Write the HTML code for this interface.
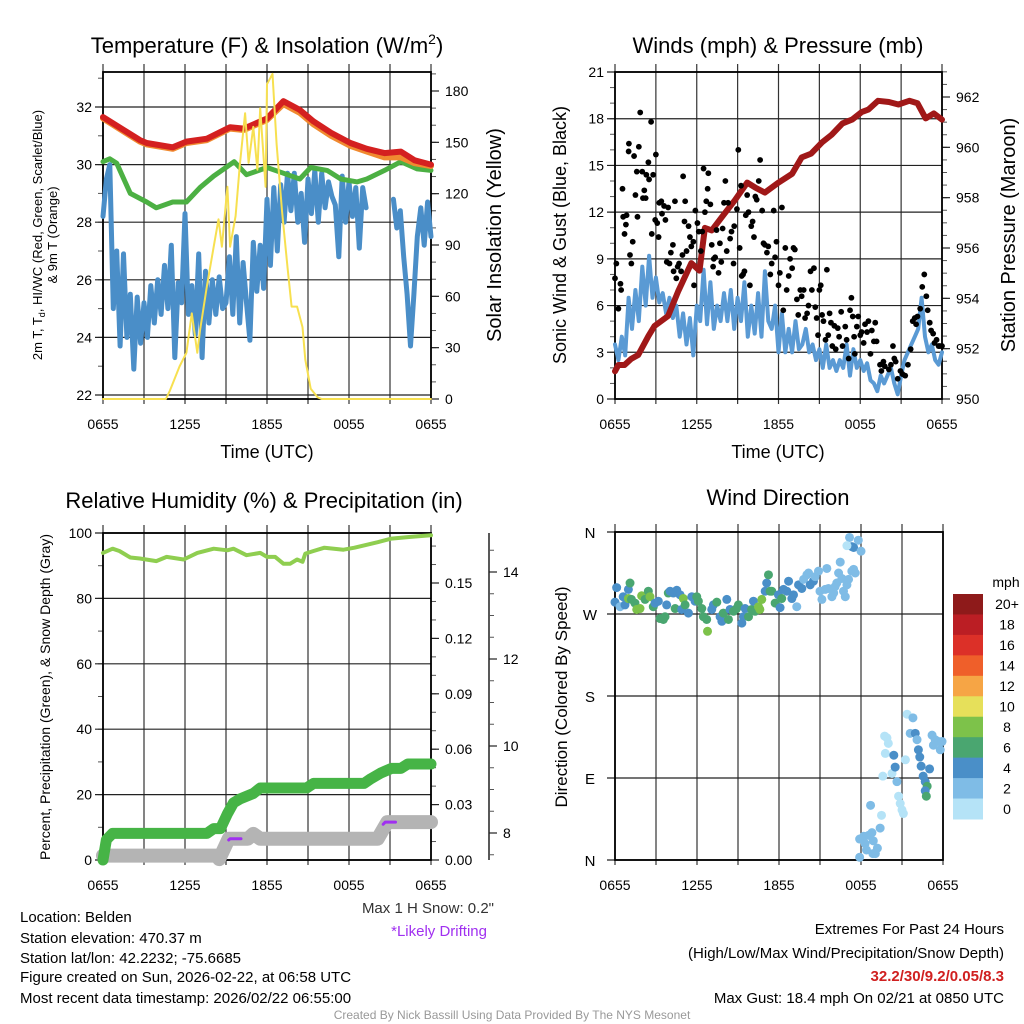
<!DOCTYPE html>
<html><head><meta charset="utf-8"><style>
body{margin:0;background:#fff;}
svg{display:block;font-family:"Liberation Sans",Arial,sans-serif;}
</style></head><body>
<svg id="c" width="1024" height="1024" viewBox="0 0 1024 1024" xmlns="http://www.w3.org/2000/svg">
<rect width="1024" height="1024" fill="#fff"/>
<g font-size="22" text-anchor="middle" fill="#000">
<text x="267" y="53">Temperature (F) &amp; Insolation (W/m<tspan dy="-9" font-size="14">2</tspan><tspan dy="9">)</tspan></text>
<text x="778" y="53">Winds (mph) &amp; Pressure (mb)</text>
<text x="264" y="508">Relative Humidity (%) &amp; Precipitation (in)</text>
<text x="778" y="505">Wind Direction</text>
</g>
<g font-size="18" text-anchor="middle">
<text x="267" y="458">Time (UTC)</text>
<text x="778" y="458">Time (UTC)</text>
</g>
<g font-size="13" text-anchor="middle">
<text transform="translate(42,235) rotate(-90)">2m T, T<tspan font-size="9" dy="3">d</tspan><tspan dy="-3">, HI/WC (Red, Green, Scarlet/Blue)</tspan></text>
<text transform="translate(57,235) rotate(-90)">&amp; 9m T (Orange)</text>
</g>
<text transform="translate(501,235) rotate(-90)" font-size="20" text-anchor="middle">Solar Insolation (Yellow)</text>
<text transform="translate(566,235) rotate(-90)" font-size="18" text-anchor="middle">Sonic Wind &amp; Gust (Blue, Black)</text>
<text transform="translate(1015,235) rotate(-90)" font-size="20" text-anchor="middle">Station Pressure (Maroon)</text>
<text transform="translate(50,697) rotate(-90)" font-size="14" text-anchor="middle">Percent, Precipitation (Green), &amp; Snow Depth (Gray)</text>
<text transform="translate(567,697) rotate(-90)" font-size="17" text-anchor="middle">Direction (Colored By Speed)</text>
<g id="panels"></g>
<g font-size="15" fill="#000">
<text x="20" y="922">Location: Belden</text>
<text x="20" y="943">Station elevation: 470.37 m</text>
<text x="20" y="963">Station lat/lon: 42.2232; -75.6685</text>
<text x="20" y="982">Figure created on Sun, 2026-02-22, at 06:58 UTC</text>
<text x="20" y="1003">Most recent data timestamp: 2026/02/22 06:55:00</text>
<text x="494" y="913" text-anchor="end" fill="#333">Max 1 H Snow: 0.2"</text>
<text x="487" y="936" text-anchor="end" fill="#a030f0">*Likely Drifting</text>
<text x="1004" y="934" text-anchor="end">Extremes For Past 24 Hours</text>
<text x="1004" y="958" text-anchor="end">(High/Low/Max Wind/Precipitation/Snow Depth)</text>
<text x="1004" y="981" text-anchor="end" fill="#d02020" font-weight="bold">32.2/30/9.2/0.05/8.3</text>
<text x="1004" y="1003" text-anchor="end">Max Gust: 18.4 mph On 02/21 at 0850 UTC</text>
</g>
<text x="512" y="1019" font-size="12" fill="#999" text-anchor="middle">Created By Nick Bassill Using Data Provided By The NYS Mesonet</text>
</svg>
<script>
// ---- Data ----
const xTickLabels=["0655","1255","1855","0055","0655"];
const tempHours=[0,2.7,3.2,5.1,6.1,7.6,9.3,10.3,12,13.2,14.4,15.4,16.7,18.1,19.3,20.6,21.8,22.8,24];
const tempRed=[31.65,30.85,30.75,30.6,30.8,30.9,31.3,31.25,31.6,32.2,31.9,31.5,31.1,30.75,30.55,30.4,30.45,30.15,30.0];
const temp9mOrange=[31.6,30.8,30.7,30.55,30.75,30.85,31.25,31.2,31.55,32.1,31.8,31.4,31.0,30.65,30.45,30.25,30.25,30.05,29.95];
const dewHours=[0,0.5,1,2,3.2,3.9,5.1,6.1,7.1,8.1,9.6,10.5,12,13.2,14.4,15.2,16.4,17.4,18.6,19.3,20.6,21.8,23,24];
const dewGreen=[30.1,30.2,30.05,29.0,28.7,28.5,28.7,28.7,29.2,29.6,30.1,29.65,29.9,29.7,29.5,29.9,29.8,29.5,29.4,29.5,29.8,30.1,29.85,29.8];
const windChill=[28.2,29.5,30,25.0,27.0,23.7,26.9,24.0,25.5,22.9,25.4,23.8,25.2,24.0,25.8,24.5,26.0,24.8,26.5,25.0,27.2,23.3,25.9,25.2,28.3,24.8,25.8,24.1,26.9,23.3,26.3,24.5,26.0,24.8,26.1,25.0,25.2,26.8,24.8,27.5,24.5,26.6,25.2,23.9,27.3,25.6,27.2,25.7,28.8,26.5,29.2,27.0,29.3,28.0,29.7,28.4,29.7,28.0,29.0,27.3,29.5,28.3,29.8,28.0,29.7,28.5,29.4,28.9,28.6,26.8,29.6,28.0,29.4,28.2,29.2,27.1,29.2,28.5,null,null,null,null,null,null,null,28.8,27.8,28.4,26.8,25.5,23.7,25.5,27.5,28.5,27.2,28.7,27.5];
const solarHours=[0,4.6,4.9,5.6,6.1,6.5,6.9,7.1,7.6,8.1,8.45,8.7,9.1,9.3,9.7,10.0,10.4,10.65,11.0,11.3,11.5,11.9,12.0,12.4,12.7,13.1,13.5,13.8,14.2,14.6,14.8,15.2,15.7,16,24];
const solarValues=[0,0,5,19,27,50,27,40,66,89,105,89,124,89,107,136,167,138,159,134,170,124,184,190,149,110,77,54,54,42,23,6,1,0,0];
const pressHours=[0,0.25,0.7,1.2,1.7,2.45,2.9,3.9,4.65,5.6,6.2,6.6,7.1,7.8,8.8,9.7,10.3,11.0,12,13,13.7,14.4,15.2,15.9,16.7,17.4,18.1,18.6,19.3,20.1,20.8,21.6,22.2,22.8,23.4,24];
const pressValues=[951.1,951.35,951.35,951.6,951.75,952.5,952.9,953.3,954.3,955.4,955.1,956.8,956.7,957.2,957.9,958.6,958.4,958.2,958.6,958.95,959.6,959.75,960.2,960.5,960.95,961.1,961.4,961.5,961.85,961.8,961.7,961.85,961.75,961.15,961.35,961.1];
const windSpeed=[3.5,2.5,4.0,2.8,6.5,4.5,7.0,5.0,8.5,6.0,9.2,6.5,7.8,6.2,6.8,5.5,6.5,5.2,6.0,4.0,5.5,3.5,5.2,2.8,6.0,5.0,8.3,4.8,7.5,4.5,6.0,5.0,6.8,5.0,7.0,4.5,6.5,5.0,7.5,4.0,6.0,4.2,6.8,4.0,8.2,5.0,4.5,6.0,3.0,5.5,3.0,4.5,3.0,5.0,3.2,3.5,4.5,3.0,3.5,2.5,3.2,2.0,3.5,2.0,2.5,1.8,2.5,2.0,3.5,1.5,3.2,2.0,2.5,1.8,2.3,1.2,1.0,0.5,1.5,1.0,1.5,2.0,1.0,0.3,1.5,2.5,3.0,3.5,4.0,4.5,6.5,4.0,3.0,3.5,2.5,2.2,3.0];
const gustHours=[0,0.1,0.25,0.4,0.45,0.55,0.6,0.7,0.8,0.85,1,1.02,1.1,1.2,1.3,1.4,1.5,1.6,1.65,1.75,1.85,2.0,2.05,2.15,2.25,2.3,2.45,2.5,2.65,2.7,2.8,2.95,3.0,3.1,3.2,3.25,3.4,3.45,3.6,3.7,3.8,3.9,4.0,4.1,4.25,4.3,4.4,4.5,4.6,4.7,4.85,4.95,5.0,5.1,5.15,5.25,5.4,5.5,5.6,5.75,5.8,5.9,6.05,6.15,6.3,6.4,6.5,6.6,6.7,6.8,6.85,7.0,7.1,7.2,7.25,7.35,7.45,7.6,7.7,7.8,7.9,8.0,8.1,8.2,8.3,8.45,8.55,8.7,8.75,8.95,9.05,9.15,9.25,9.3,9.4,9.5,9.6,9.7,9.8,9.9,10.0,10.1,10.2,10.3,10.4,10.55,10.65,10.8,10.9,11.0,11.15,11.25,11.4,11.5,11.65,11.75,11.85,12.0,12.1,12.25,12.35,12.5,12.6,12.75,12.85,13.0,13.1,13.2,13.35,13.45,13.6,13.7,13.85,13.95,14.1,14.2,14.35,14.45,14.6,14.7,14.8,14.9,15.0,15.1,15.2,15.3,15.45,15.55,15.65,15.75,15.85,15.95,16.1,16.2,16.35,16.45,16.6,16.7,16.9,17.0,17.15,17.25,17.35,17.45,17.55,17.6,17.75,17.85,18.0,18.1,18.25,18.35,18.5,18.6,18.75,18.85,19.0,19.1,19.2,19.45,19.55,19.7,19.8,20.1,20.25,20.4,20.5,20.6,20.75,20.95,21.1,21.3,21.5,21.7,21.85,22.0,22.1,22.2,22.4,22.55,22.7,22.85,22.95,23.1,23.2,23.35,23.45,23.6,23.75,23.85,24];
const gustValues=[7.75,8.7,5.8,7.4,7.0,13.5,11.7,10.6,11.2,11.8,15.9,16.4,9.25,8.7,10.1,15.6,13.1,14.6,11.7,16.2,18.4,14.6,12.9,13.4,12.9,14.4,15.2,14.1,17.8,10.6,14.4,11.5,15.7,11.3,10.4,12.6,12.7,11.9,12.4,11.5,8.8,12.3,8.7,9.4,9.9,8.2,12.7,7.75,8.5,8.7,8.2,9.25,14.3,11.4,12.7,9.5,11.1,10.4,9.8,10.1,7.3,12.1,11.3,10.75,9.5,10.75,14.8,12.0,12.7,13.5,14.5,12.5,9.9,8.5,9.0,9.1,10.85,8.1,10.0,8.8,10.95,12.6,14.0,9.5,12.6,10.3,10.75,8.7,11.1,12.2,16.0,9.7,13.7,7.9,8.0,8.2,11.8,13.1,12.0,7.3,11.1,11.4,10.4,13.0,12.8,14.0,15.35,12.1,10.0,9.9,9.4,9.8,8.0,8.7,12.1,9.1,10.1,7.3,8.1,12.3,5.7,9.7,7.0,7.9,9.0,8.4,9.7,9.6,6.4,5.4,7.0,6.6,7.0,5.2,5.5,6.0,8.2,7.0,8.4,5.9,5.2,4.1,7.0,7.3,5.4,5.0,3.8,8.3,4.1,5.5,4.9,3.4,4.7,3.2,4.55,4.0,5.6,3.4,4.65,3.8,2.6,5.7,6.5,5.3,4.0,2.9,4.65,5.3,4.1,4.3,3.6,4.8,4.3,5.0,2.9,4.4,3.7,4.9,3.7,2.2,1.8,2.4,2.1,1.9,2.2,3.4,2.6,2.4,1.3,1.8,1.6,1.5,2.2,3.2,5.0,5.2,4.8,5.3,5.8,7.2,8.0,6.6,5.7,4.9,4.4,4.2,3.6,3.8,3.4,3.4,3.4];
const rhHours=[0,0.7,1.2,2,2.7,3.9,4.65,5.9,6.9,8.1,9.1,9.55,10.5,11.5,12,12.6,13.2,13.7,14.2,14.6,14.8,15.4,16.2,16.9,17.6,18.4,19.1,20.1,21.1,22.5,24];
const rhValues=[93.9,95.2,94.5,92.5,92.2,91.4,92.7,91.9,93.9,95.2,94.7,95.2,93.2,93.9,92.7,92.7,90.6,90.6,91.9,91.2,93.7,94.5,95.5,95.2,94.9,95.5,96.2,97.2,98.3,98.8,99.3];
const precipHours=[0,0.25,0.7,1.2,7.6,8.1,8.6,9.1,9.55,10.0,11.0,11.5,14.9,15.4,19.1,19.6,20.3,21.1,21.8,22.3,24];
const precipValues=[0,0.011,0.0144,0.0144,0.0144,0.017,0.017,0.025,0.031,0.033,0.036,0.039,0.039,0.0415,0.0415,0.044,0.047,0.0496,0.0496,0.052,0.052];
const snowHours=[0,8.3,8.5,9.2,10.6,11.0,11.5,20.1,20.8,24];
const snowValues=[7.48,7.48,7.4,7.87,7.87,7.98,7.87,7.87,8.25,8.25];
const driftHours=[[9.2,9.3,10.1],[20.5,20.65,21.4]];
const driftValues=[[7.84,7.87,7.87],[8.2,8.25,8.25]];
const dirHours=[0,0.12,0.37,0.6,0.73,0.98,1.1,0.98,1.2,1.46,1.59,1.83,1.95,2.2,2.44,2.56,2.8,2.93,3.17,3.3,3.54,3.66,3.78,3.9,4.03,4.27,4.52,4.4,4.76,5.0,4.88,5.13,5.37,5.62,5.86,5.98,6.1,6.35,6.47,6.71,6.77,7.08,7.2,7.45,7.69,7.82,7.93,8.18,8.3,8.42,8.67,8.9,9.03,9.28,9.4,9.52,9.77,10.0,10.13,10.25,10.5,10.6,10.74,10.99,11.1,11.23,11.35,11.47,11.72,11.96,12.08,12.2,12.33,12.57,12.7,12.94,13.06,13.3,13.43,13.67,13.8,14.04,14.16,14.28,14.52,14.65,14.89,15.0,15.14,15.38,15.5,15.62,15.87,16.0,16.1,16.23,16.36,16.48,16.6,16.72,16.85,16.97,17.09,17.33,17.46,17.58,17.16,17.33,17.46,17.8,18.0,16.97,17.9,17.9,18.2,18.3,18.4,18.55,18.7,18.8,18.9,19.05,19.2,18.87,19.4,19.5,19.6,19.73,19.9,20.0,19.78,20.27,20.4,20.5,20.63,20.75,20.87,21.0,21.1,21.25,21.37,21.6,21.8,21.97,22.1,22.2,22.3,22.4,22.55,22.7,22.84,22.7,22.78,23.02,23.2,23.3,23.43,23.68,23.8,23.93];
const dirValues=[283,299,278,289,280,297,304,287,286,282,275,276,290,286,295,289,278,282,284,265,264,267,280,293,295,293,296,276,291,287,275,280,271,289,284,289,284,276,267,264,251,275,280,283,267,262,271,286,264,275,273,276,280,260,267,276,267,275,284,273,278,275,286,295,304,313,295,295,282,291,277,287,297,295,306,287,291,278,302,298,308,313,315,302,306,311,317,295,286,297,320,298,289,293,300,304,315,327,309,295,289,302,308,317,319,315,354,344,343,351,339,345,3,23,26,18,11,27,60,30,21,7,13,7,35,49,92,136,134,128,117,95,115,102,86,70,62,55,51,110,160,139,156,139,132,121,113,103,92,86,81,76,70,100,137,126,132,130,121,130];
const dirSpeeds=[4,4,2,4,4,4,6,8,6,6,8,8,8,6,6,8,6,4,4,6,6,6,4,6,4,4,4,6,4,8,4,6,4,4,4,6,6,6,6,6,8,4,4,6,4,4,6,4,6,4,6,6,6,4,4,4,6,6,4,6,8,8,8,4,4,6,6,6,6,4,4,6,4,4,4,4,4,2,4,4,2,2,2,4,4,2,2,2,2,2,2,2,2,2,2,2,2,2,2,2,2,2,2,2,2,2,2,4,4,2,2,0,2,2,2,2,2,2,2,2,2,2,2,2,2,0,0,0,0,0,0,0,4,4,2,0,0,0,0,0,0,2,2,4,2,4,4,4,4,4,6,4,6,4,2,2,2,2,2,2];
const dirLabels=["N","W","S","E","N"];
const legendLabels=["20+","18","16","14","12","10","8","6","4","2","0"];
const legendColors=["#8e1a1a","#bb1e24","#dc3028","#ef5f2a","#f6a545","#e6e05a","#7dc24a","#4aa670","#4a8fc8","#7fbce6","#b5e3f7"];

// ---- Drawing ----
const NS="http://www.w3.org/2000/svg";
const root=document.getElementById('panels');
function mk(tag,attrs,parent){const e=document.createElementNS(NS,tag);for(const k in attrs)e.setAttribute(k,attrs[k]);(parent||root).appendChild(e);return e;}
function xs(p,h){return p.x0+h/24*(p.x1-p.x0);}
function lin(v0,p0,v1,p1){return v=>p0+(v-v0)*(p1-p0)/(v1-v0);}
function pathD(p,hours,vals,ys){let d='',pen=false;for(let i=0;i<hours.length;i++){const v=vals[i];if(v===null||v===undefined){pen=false;continue;}d+=(pen?'L':'M')+xs(p,hours[i]).toFixed(1)+','+ys(v).toFixed(1);pen=true;}return d;}
function frame(p,name){
  const g=mk('g',{});
  
  
  for(let i=0;i<=8;i++){const x=p.x0+i*(p.x1-p.x0)/8;
    const gl=mk('line',{x1:x,y1:p.y0-8,x2:x,y2:p.y1,stroke:'#333','stroke-width':1.2},g);
    
    
    mk('line',{x1:x,y1:p.y1,x2:x,y2:p.y1+5,stroke:'#333','stroke-width':1.2},g);}
  for(let i=0;i<xTickLabels.length;i++){
    const t=mk('text',{x:p.x0+i*(p.x1-p.x0)/4,y:p.y1+30,'font-size':14,'text-anchor':'middle'},g);t.textContent=xTickLabels[i];
    
    }
  return g;}
function leftAxis(p,g,ys,ticks,minor,fmt,grid){
  minor.forEach(v=>mk('line',{x1:p.x0-5,y1:ys(v),x2:p.x0,y2:ys(v),stroke:'#555','stroke-width':1},g));
  ticks.forEach(v=>{const y=ys(v);
    mk('line',{x1:p.x0-8,y1:y,x2:grid?p.x1:p.x0,y2:y,stroke:'#222','stroke-width':1.2},g);
    const t=mk('text',{x:p.x0-11,y:y+5,'font-size':14,'text-anchor':'end'},g);t.textContent=fmt(v);
    
    });}
function rightAxis(p,g,ys,ticks,minor,fmt){
  minor.forEach(v=>mk('line',{x1:p.x1,y1:ys(v),x2:p.x1+5,y2:ys(v),stroke:'#555','stroke-width':1},g));
  ticks.forEach(v=>{const y=ys(v);
    mk('line',{x1:p.x1,y1:y,x2:p.x1+8,y2:y,stroke:'#222','stroke-width':1.2},g);
    const t=mk('text',{x:p.x1+14,y:y+5,'font-size':14,'text-anchor':'start'},g);t.textContent=fmt(v);
    
    });}
function border(p,g){mk('rect',{x:p.x0,y:p.y0,width:p.x1-p.x0,height:p.y1-p.y0,fill:'none',stroke:'#000','stroke-width':1.8},g);}
function range(a,b,s){const r=[];for(let v=a;v<=b+1e-9;v+=s)r.push(+v.toFixed(4));return r;}
function series(p,hours,vals,ys,color,w,name){
  const e=mk('path',{d:pathD(p,hours,vals,ys),fill:'none',stroke:color,'stroke-width':w,'stroke-linejoin':'round','stroke-linecap':'round'});
  
  
  return e;}
const quarterHours=windChill.map((_,i)=>i*0.25);

// Panel 1: temperature
const p1={x0:103,x1:431,y0:72,y1:399};
const yT=lin(22,395,32,107), ySol=lin(0,399,180,91);
let g=frame(p1,'temperature-panel');
leftAxis(p1,g,yT,range(22,32,2),range(22,33,1),v=>String(v),true);
rightAxis(p1,g,ySol,range(0,180,30),range(0,190,10),v=>String(v));
series(p1,quarterHours,windChill,yT,'#4a8ec8',5,'wind-chill-line');
series(p1,dewHours,dewGreen,yT,'#4cb043',5,'dewpoint-line');
series(p1,tempHours,temp9mOrange,yT,'#f08a30',6,'temp-9m-line');
series(p1,tempHours,tempRed,yT,'#d42020',6,'temp-2m-line');
series(p1,solarHours,solarValues,ySol,'#f7e050',2,'solar-line');
border(p1,g);

// Panel 2: winds
const p2={x0:615,x1:942,y0:72,y1:399};
const yW=lin(0,399,21,72), yP=lin(950,399,962,97);
g=frame(p2,'winds-panel');
leftAxis(p2,g,yW,range(0,21,3),range(0,21,1),v=>String(v),true);
rightAxis(p2,g,yP,range(950,962,2),range(950,963,0.5),v=>String(v));
series(p2,quarterHours,windSpeed,yW,'#5a9ad4',4,'wind-speed-line');
series(p2,pressHours,pressValues,yP,'#a01818',6,'pressure-line');
gustHours.forEach((h,i)=>{const c=mk('circle',{cx:xs(p2,h),cy:yW(gustValues[i]),r:2.9,fill:'#000'});
  
  });
border(p2,g);

// Panel 3: humidity & precip
const p3={x0:103,x1:431,y0:533,y1:860};
const yRH=lin(0,860,100,533), yPr=lin(0,860,0.15,583), ySn=lin(8,833,14,572);
g=frame(p3,'humidity-panel');
leftAxis(p3,g,yRH,range(0,100,20),range(0,100,10),v=>String(v),true);
rightAxis(p3,g,yPr,range(0,0.15,0.03),range(0,0.17,0.01),v=>v.toFixed(2));
const sg=mk('g',{});


mk('line',{x1:489,y1:533,x2:489,y2:860,stroke:'#222','stroke-width':1.5},sg);
range(7.5,14.5,0.5).forEach(v=>mk('line',{x1:489,y1:ySn(v),x2:494,y2:ySn(v),stroke:'#555','stroke-width':1},sg));
range(8,14,2).forEach(v=>{mk('line',{x1:489,y1:ySn(v),x2:497,y2:ySn(v),stroke:'#222','stroke-width':1.2},sg);
  const t=mk('text',{x:503,y:ySn(v)+5,'font-size':14},sg);t.textContent=String(v);
  
  });
series(p3,snowHours,snowValues,ySn,'#b4b4b4',14,'snow-depth-line');
series(p3,precipHours,precipValues,yPr,'#46b446',11,'precipitation-line');
driftHours.forEach((hs,i)=>series(p3,hs,driftValues[i],ySn,'#a030f0',3,'drifting-marker'));
series(p3,rhHours,rhValues,yRH,'#8fce50',4,'relative-humidity-line');
border(p3,g);

// Panel 4: wind direction
const p4={x0:615,x1:943,y0:532,y1:860};
const yD=lin(0,860,360,532);
g=frame(p4,'direction-panel');
[0,90,180,270,360].forEach((v,i)=>{const y=yD(v);
  mk('line',{x1:p4.x0-8,y1:y,x2:p4.x1,y2:y,stroke:'#222','stroke-width':1.2},g);
  const t=mk('text',{x:590,y:y+6,'font-size':15,'text-anchor':'middle'},g);t.textContent=dirLabels[4-i];
  
  });
function spColor(s){return legendColors[10-Math.min(10,Math.round(s/2))];}
dirHours.forEach((h,i)=>{const c=mk('circle',{cx:xs(p4,h),cy:yD(dirValues[i]),r:4.5,fill:spColor(dirSpeeds[i])});
  
  });
border(p4,g);
const lg=mk('g',{});


const mt=mk('text',{x:1006,y:587,'font-size':14,'text-anchor':'middle'},lg);mt.textContent='mph';
const bh=(819-594)/11;
legendLabels.forEach((l,i)=>{mk('rect',{x:953,y:594+i*bh,width:30,height:bh+0.5,fill:legendColors[i]},lg);
  const t=mk('text',{x:1007,y:594+i*bh+bh/2+5,'font-size':14,'text-anchor':'middle'},lg);t.textContent=l;
  
  });
</script>
</body></html>
